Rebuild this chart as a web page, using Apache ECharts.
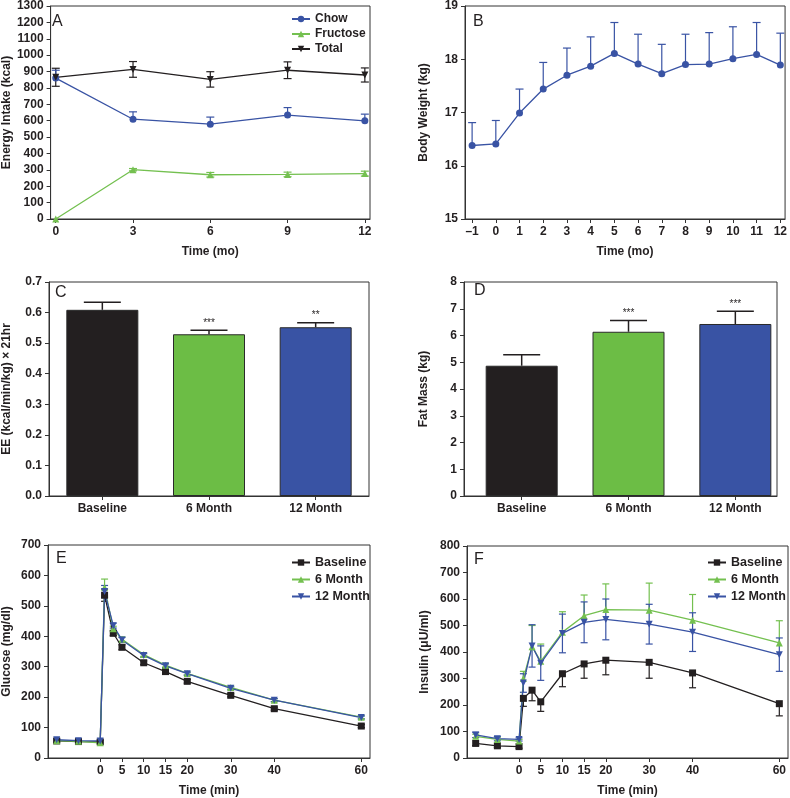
<!DOCTYPE html>
<html><head><meta charset="utf-8">
<script src="https://cdn.jsdelivr.net/npm/echarts@6/dist/echarts.min.js"></script>
<style>html,body{margin:0;padding:0;background:#fff}#c{width:790px;height:798px}</style>
</head><body><div id="c"></div>
<script>
// ---------- Panel A: energy intake ----------
const timeA = [0, 3, 6, 9, 12];
const ticksA = [0, 3, 6, 9, 12];
const chow = [860, 609, 579, 634, 599];
const chowErr = [48, 45, 43, 46, 41];
const fructose = [0, 301, 270, 272, 277];
const fructoseErr = [0, 7, 14, 14, 15];
const total = [865, 913, 852, 908, 879];
const totalErr = [55, 48, 47, 51, 43];
// ---------- Panel B: body weight ----------
const timeB = [-1, 0, 1, 2, 3, 4, 5, 6, 7, 8, 9, 10, 11, 12];
const bodyWeight = [16.38, 16.41, 16.99, 17.44, 17.70, 17.87, 18.11, 17.91, 17.73, 17.90, 17.91, 18.01, 18.09, 17.89];
const bodyWeightErr = [0.43, 0.44, 0.45, 0.50, 0.51, 0.55, 0.58, 0.56, 0.55, 0.57, 0.59, 0.60, 0.60, 0.60];
// ---------- Panels C, D: bars ----------
const groups = ['Baseline', '6 Month', '12 Month'];
const groupPos = [1, 2, 3];
const ee = [0.609, 0.529, 0.552];
const eeErr = [0.025, 0.013, 0.015];
const eeStars = ['', '***', '**'];
const fat = [4.87, 6.14, 6.43];
const fatErr = [0.41, 0.42, 0.48];
const fatStars = ['', '***', '***'];
// ---------- Panels E, F: time course ----------
const timeGT = [-10, -5, 0, 1, 3, 5, 10, 15, 20, 30, 40, 60];
const ticksGT = [0, 5, 10, 15, 20, 30, 40, 60];
const gluBase = [56, 54, 53, 535, 410, 364, 313, 284, 252, 206, 162, 105];
const gluBaseErr = [4, 4, 4, 20, 8, 8, 6, 6, 6, 5, 5, 5];
const glu6 = [57, 55, 50, 560, 425, 390, 340, 305, 278, 232, 190, 134];
const glu6Err = [4, 4, 4, 28, 8, 8, 6, 6, 5, 5, 5, 5];
const glu12 = [60, 57, 56, 547, 435, 388, 337, 303, 277, 229, 190, 133];
const glu12Err = [4, 4, 4, 20, 8, 8, 6, 6, 5, 5, 5, 5];
const insBase = [55, 46, 43, 225, 256, 212, 318, 355, 369, 361, 321, 205];
const insBaseErr = [8, 6, 6, 30, 40, 36, 49, 54, 55, 60, 56, 46];
const ins6 = [82, 70, 64, 300, 420, 365, 475, 537, 560, 558, 520, 434];
const ins6Err = [8, 8, 6, 27, 80, 65, 77, 78, 97, 102, 97, 84];
const ins12 = [87, 73, 70, 283, 423, 358, 470, 512, 523, 505, 475, 390];
const ins12Err = [10, 8, 6, 35, 80, 65, 73, 77, 77, 75, 73, 63];

const FONT = '"Liberation Sans", Arial, Helvetica, sans-serif';
const BLUE = '#3953a4', GREEN = '#6cbd45', LGREEN = '#74c050', BLACK = '#231f20', AX = '#333';
const zeros = n => new Array(n).fill(0);
const pairs = (xs, ys) => xs.map((x, i) => [x, ys[i]]);

function axisBase(gi) {
  return {
    gridIndex: gi,
    axisLine: { show: true, onZero: false, lineStyle: { color: AX, width: 1 } },
    axisTick: { show: true, inside: false, length: 4, lineStyle: { color: AX, width: 1 } },
    axisLabel: { color: BLACK, fontFamily: FONT, fontWeight: 'bold', fontSize: 12, margin: 7 },
    splitLine: { show: false },
    nameLocation: 'middle',
    nameTextStyle: { color: BLACK, fontFamily: FONT, fontWeight: 'bold', fontSize: 12 }
  };
}
function xVal(gi, min, max, ticks, name, fmt) {
  const a = axisBase(gi);
  a.type = 'value'; a.min = min; a.max = max;
  a.axisLabel.customValues = ticks; a.axisTick.customValues = ticks;
  a.axisLabel.formatter = fmt || (v => String(v));
  a.name = name; a.nameGap = 27;
  return a;
}
function yVal(gi, min, max, interval, name, gap, fmt) {
  const a = axisBase(gi);
  a.type = 'value'; a.min = min; a.max = max; a.interval = interval;
  a.axisLabel.formatter = fmt || (v => String(v));
  a.name = name; a.nameGap = gap;
  return a;
}
function errSeries(xi, yi, xs, ys, lo, hi, color, capHalf, lw, stars) {
  return {
    type: 'custom', xAxisIndex: xi, yAxisIndex: yi, silent: true, z: 3,
    data: xs.map((x, i) => [x, ys[i], lo[i], hi[i]]),
    renderItem: function (params, api) {
      const x = api.value(0), y = api.value(1), l = api.value(2), h = api.value(3);
      const top = api.coord([x, y + h]), bot = api.coord([x, y - l]);
      const st = { stroke: color, lineWidth: lw };
      const ch = [{ type: 'line', shape: { x1: top[0], y1: top[1], x2: bot[0], y2: bot[1] }, style: st }];
      if (h > 0) ch.push({ type: 'line', shape: { x1: top[0] - capHalf, y1: top[1], x2: top[0] + capHalf, y2: top[1] }, style: st });
      if (l > 0) ch.push({ type: 'line', shape: { x1: bot[0] - capHalf, y1: bot[1], x2: bot[0] + capHalf, y2: bot[1] }, style: st });
      if (stars && stars[params.dataIndex]) {
        ch.push({ type: 'text', x: top[0], y: top[1] - 2,
          style: { text: stars[params.dataIndex], textAlign: 'center', textVerticalAlign: 'bottom', fontSize: 10, fontFamily: FONT, fill: BLACK } });
      }
      return { type: 'group', children: ch };
    }
  };
}
function lineSeries(xi, yi, name, xs, ys, color, symbol, rot, size) {
  return {
    type: 'line', name: name, xAxisIndex: xi, yAxisIndex: yi, data: pairs(xs, ys),
    symbol: symbol, symbolRotate: rot || 0, symbolSize: size || 7,
    lineStyle: { color: color, width: 1.3 }, itemStyle: { color: color }, z: 4, animation: false
  };
}
function barSeries(xi, yi, vals, colors) {
  return {
    type: 'bar', xAxisIndex: xi, yAxisIndex: yi, barWidth: 72, animation: false,
    data: vals.map((v, i) => ({ value: [groupPos[i], v], itemStyle: { color: colors[i], borderColor: '#2a2a2a', borderWidth: 1 } }))
  };
}
const barColors = [BLACK, GREEN, BLUE];
const minusFmt = v => String(v).replace('-', '\u2013');
const grpFmt = v => groups[groupPos.indexOf(v)] || '';

const legendBase = { orient: 'vertical', padding: 0, itemWidth: 18, itemHeight: 8, selectedMode: false };
const legendText = size => ({ color: BLACK, fontFamily: FONT, fontWeight: 'bold', fontSize: size });
const option = {
  animation: false,
  grid: [
    { left: 50, top: 6, width: 320, height: 213 },
    { left: 465, top: 6, width: 323, height: 213 },
    { left: 49, top: 282, width: 320, height: 214 },
    { left: 464, top: 282, width: 313, height: 214 },
    { left: 48, top: 545, width: 322, height: 213 },
    { left: 467, top: 546, width: 321, height: 213 }
  ].map(g => Object.assign(g, { show: true, borderColor: AX, borderWidth: 1, backgroundColor: 'transparent' })),
  xAxis: [
    xVal(0, -0.2, 12.2, ticksA, 'Time (mo)'),
    xVal(1, -1.3, 12.2, timeB, 'Time (mo)', minusFmt),
    xVal(2, 0.5, 3.5, groupPos, '', grpFmt),
    xVal(3, 0.46, 3.39, groupPos, '', grpFmt),
    xVal(4, -12, 62, ticksGT, 'Time (min)'),
    xVal(5, -12, 62, ticksGT, 'Time (min)')
  ],
  yAxis: [
    yVal(0, 0, 1300, 100, 'Energy Intake (kcal)', 37),
    yVal(1, 15, 19, 1, 'Body Weight (kg)', 35),
    yVal(2, 0, 0.7, 0.1, 'EE (kcal/min/kg) \u00d7 21hr', 36, v => v.toFixed(1)),
    yVal(3, 0, 8, 1, 'Fat Mass (kg)', 34),
    yVal(4, 0, 700, 100, 'Glucose (mg/dl)', 35),
    yVal(5, 0, 800, 100, 'Insulin (\u03bcU/ml)', 36)
  ],
  legend: [
    Object.assign({ data: ['Chow', 'Fructose', 'Total'], left: 291, top: 13, itemGap: 3, textStyle: legendText(12) }, legendBase),
    Object.assign({ data: ['Baseline', '6 Month', '12 Month'], left: 291, top: 556, itemGap: 4, textStyle: legendText(12.5) }, legendBase),
    Object.assign({ data: ['Baseline', '6 Month', '12 Month'], left: 707, top: 556, itemGap: 4, textStyle: legendText(12.5) }, legendBase)
  ],
  graphic: [
    ['A', 52, 14], ['B', 473, 14], ['C', 55, 285], ['D', 474, 283], ['E', 56, 551], ['F', 474, 552]
  ].map(p => ({ type: 'text', left: p[1], top: p[2], style: { text: p[0], fontSize: 16, fontFamily: FONT, fill: BLACK } })),
  series: [
    // A
    errSeries(0, 0, timeA, total, totalErr, totalErr, BLACK, 4, 1.2),
    errSeries(0, 0, timeA, chow, zeros(5), chowErr, BLUE, 4, 1.2),
    errSeries(0, 0, timeA, fructose, fructoseErr, fructoseErr, LGREEN, 4, 1.2),
    lineSeries(0, 0, 'Chow', timeA, chow, BLUE, 'circle', 0, 7),
    lineSeries(0, 0, 'Fructose', timeA, fructose, LGREEN, 'triangle', 0, 7),
    lineSeries(0, 0, 'Total', timeA, total, BLACK, 'triangle', 180, 7),
    // B
    errSeries(1, 1, timeB, bodyWeight, zeros(14), bodyWeightErr, BLUE, 4, 1.2),
    lineSeries(1, 1, 'Body Weight', timeB, bodyWeight, BLUE, 'circle', 0, 7),
    // C
    barSeries(2, 2, ee, barColors),
    errSeries(2, 2, groupPos, ee, zeros(3), eeErr, BLACK, 18.5, 1.5, eeStars),
    // D
    barSeries(3, 3, fat, barColors),
    errSeries(3, 3, groupPos, fat, zeros(3), fatErr, BLACK, 18.5, 1.5, fatStars),
    // E
    errSeries(4, 4, timeGT, gluBase, gluBaseErr, gluBaseErr, BLACK, 3.5, 1.2),
    errSeries(4, 4, timeGT, glu6, glu6Err, glu6Err, LGREEN, 3.5, 1.2),
    errSeries(4, 4, timeGT, glu12, glu12Err, glu12Err, BLUE, 3.5, 1.2),
    lineSeries(4, 4, 'Baseline', timeGT, gluBase, BLACK, 'rect', 0, 7),
    lineSeries(4, 4, '6 Month', timeGT, glu6, LGREEN, 'triangle', 0, 7),
    lineSeries(4, 4, '12 Month', timeGT, glu12, BLUE, 'triangle', 180, 7),
    // F
    errSeries(5, 5, timeGT, insBase, insBaseErr, zeros(12), BLACK, 3.5, 1.2),
    errSeries(5, 5, timeGT, ins6, zeros(12), ins6Err, LGREEN, 3.5, 1.2),
    errSeries(5, 5, timeGT, ins12, ins12Err, ins12Err, BLUE, 3.5, 1.2),
    lineSeries(5, 5, 'Baseline', timeGT, insBase, BLACK, 'rect', 0, 7),
    lineSeries(5, 5, '6 Month', timeGT, ins6, LGREEN, 'triangle', 0, 7),
    lineSeries(5, 5, '12 Month', timeGT, ins12, BLUE, 'triangle', 180, 7)
  ]
};
const chart = echarts.init(document.getElementById('c'), null, { renderer: 'canvas' });
chart.setOption(option);
</script>
</body></html>
